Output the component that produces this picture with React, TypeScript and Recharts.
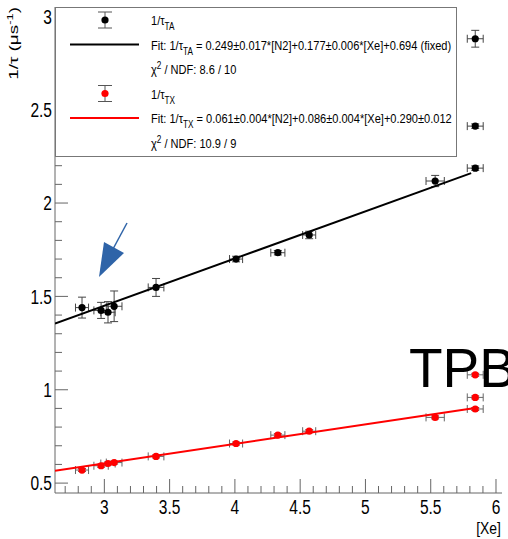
import { ComposedChart, Scatter, XAxis, YAxis, ErrorBar } from 'recharts'

const FONT = "'Liberation Sans', Arial, sans-serif"
const NARROW = 0.82

// [Xe] of each measurement (shared by both series)
const xe = [2.829, 2.975, 3.028, 3.075, 3.396, 4.009, 4.329, 4.569, 5.534, 5.841, 5.841, 5.841]
const xeErr = [0.05, 0.055, 0.055, 0.06, 0.06, 0.05, 0.054, 0.05, 0.07, 0.061, 0.061, 0.061]

// 1/tau_TA (black)
const rateTA = [1.44, 1.425, 1.415, 1.447, 1.548, 1.70, 1.734, 1.829, 2.118, 2.187, 2.412, 2.88]
const rateTAErr = [0.056, 0.043, 0.057, 0.082, 0.048, 0.015, 0.012, 0.02, 0.03, 0.012, 0.012, 0.045]

// 1/tau_TX (red)
const rateTX = [0.57, 0.593, 0.605, 0.61, 0.643, 0.712, 0.757, 0.778, 0.852, 0.897, 0.959, 1.08]
const rateTXErr = [0.008, 0.008, 0.008, 0.008, 0.008, 0.008, 0.008, 0.008, 0.008, 0.008, 0.008, 0.008]

// fit lines, end points
const fitXeTA = [2.622, 5.81]
const fitTA = [1.355, 2.16]
const fitXeTX = [2.622, 5.84]
const fitTX = [0.566, 0.902]

const xTicks = [2.7, 2.8, 2.9, 3, 3.1, 3.2, 3.3, 3.4, 3.5, 3.6, 3.7, 3.8, 3.9, 4, 4.1, 4.2, 4.3, 4.4, 4.5,
  4.6, 4.7, 4.8, 4.9, 5, 5.1, 5.2, 5.3, 5.4, 5.5, 5.6, 5.7, 5.8, 5.9, 6]
const yTicks = [0.5, 0.6, 0.7, 0.8, 0.9, 1, 1.1, 1.2, 1.3, 1.4, 1.5, 1.6, 1.7, 1.8, 1.9, 2, 2.1, 2.2, 2.3,
  2.4, 2.5, 2.6, 2.7, 2.8, 2.9, 3]

const X_DOMAIN = [2.622, 6.046]
const Y_DOMAIN = [0.447, 3.05]

const AXIS = '#666'

const toPoints = (xs: number[], ys: number[], exs?: number[], eys?: number[]) =>
  xs.map((x, i) => ({ x, y: ys[i], ex: exs ? exs[i] : 0, ey: eys ? eys[i] : 0 }))

const taData = toPoints(xe, rateTA, xeErr, rateTAErr)
const txData = toPoints(xe, rateTX, xeErr, rateTXErr)
const taFit = toPoints(fitXeTA, fitTA)
const txFit = toPoints(fitXeTX, fitTX)

const isMajor = (v: number) => Math.abs(v * 2 - Math.round(v * 2)) < 1e-6

// condensed helvetica look: squeeze Liberation Sans horizontally
function NText({ x, y, rotate = 0, size, anchor = 'start', dy, sx = NARROW, children }: any) {
  return (
    <text transform={`translate(${x},${y}) rotate(${rotate}) scale(${sx},1)`} textAnchor={anchor}
      dy={dy} fontSize={size} fontFamily={FONT} fill="#000">
      {children}
    </text>
  )
}

const XTick = (props: any) => {
  const { x, y, payload } = props
  const major = isMajor(payload.value)
  return (
    <g>
      <line x1={x} x2={x} y1={y} y2={y - (major ? 14 : 7)} stroke={AXIS} />
      {major && <NText x={x} y={y + 21} size={21} sx={0.74} anchor="middle">{payload.value}</NText>}
    </g>
  )
}

const YTick = (props: any) => {
  const { x, y, payload } = props
  const major = isMajor(payload.value)
  return (
    <g>
      <line x1={x} x2={x + (major ? 13 : 7)} y1={y} y2={y} stroke={AXIS} />
      {major && <NText x={x - 3} y={y} dy="0.35em" size={21} sx={0.74} anchor="end">{payload.value}</NText>}
    </g>
  )
}

const dot = (color: string) => (p: any) => <circle cx={p.cx} cy={p.cy} r={3.6} fill={color} />
const noDot = () => <g />

function LegendMarker({ y, color }: { y: number; color: string }) {
  return (
    <g>
      <line x1={105} x2={105} y1={y - 8} y2={y + 8} stroke="#555" />
      <line x1={98} x2={112} y1={y - 8} y2={y - 8} stroke="#555" />
      <line x1={98} x2={112} y1={y + 8} y2={y + 8} stroke="#555" />
      <circle cx={105} cy={y} r={3.6} fill={color} />
    </g>
  )
}

function Tau({ sub }: { sub: string }) {
  return (
    <>
      1/τ<tspan fontSize={10} dy={5}>{sub}</tspan><tspan dy={-5}> </tspan>
    </>
  )
}

function Chi({ rest }: { rest: string }) {
  return (
    <>
      χ<tspan fontSize={10} dy={-5}>2</tspan><tspan dy={5}>{rest}</tspan>
    </>
  )
}

function Overlay() {
  const fs = 13.5
  return (
    <svg width={508} height={539} style={{ position: 'absolute', left: 0, top: 0, pointerEvents: 'none' }}>
      <rect x={55.5} y={7.5} width={401} height={149} fill="#fff" stroke="#777" />
      <LegendMarker y={20} color="#000" />
      <NText x={151} y={25} size={fs}><Tau sub="TA" /></NText>
      <line x1={70} x2={139} y1={44.5} y2={44.5} stroke="#000" strokeWidth={2} />
      <NText x={151} y={49.5} size={fs}>Fit: <Tau sub="TA" />= 0.249±0.017*[N2]+0.177±0.006*[Xe]+0.694 (fixed)</NText>
      <NText x={151} y={74} size={fs}><Chi rest=" / NDF: 8.6 / 10" /></NText>
      <LegendMarker y={93.5} color="#f00" />
      <NText x={151} y={98.5} size={fs}><Tau sub="TX" /></NText>
      <line x1={70} x2={139} y1={118} y2={118} stroke="#f00" strokeWidth={2} />
      <NText x={151} y={123} size={fs}>Fit: <Tau sub="TX" />= 0.061±0.004*[N2]+0.086±0.004*[Xe]+0.290±0.012</NText>
      <NText x={151} y={147.5} size={fs}><Chi rest=" / NDF: 10.9 / 9" /></NText>

      <NText x={18} y={7} rotate={-90} size={13} sx={1.45} anchor="end">
        1/τ (μs<tspan fontSize={9} dy={-5}>-1</tspan><tspan dy={5}>)</tspan>
      </NText>
      <NText x={501} y={534} size={17} anchor="end">[Xe]</NText>

      <text x={409} y={387} fontFamily={FONT} fontSize={55} fill="#000">TPB</text>
      <line x1={127} y1={223} x2={113} y2={249} stroke="#2f64a8" strokeWidth={1.5} />
      <polygon points="99,277 104,242 124,253" fill="#2f64a8" />
    </svg>
  )
}

export default function App() {
  return (
    <div style={{ position: 'fixed', left: 0, top: 0, width: 508, height: 539, background: '#fff', overflow: 'hidden' }}>
      <ComposedChart width={508} height={539} margin={{ top: 7, right: 6, bottom: 0, left: 0 }}>
        <XAxis type="number" dataKey="x" domain={X_DOMAIN} ticks={xTicks} interval={0} height={46}
          allowDataOverflow tickSize={0} tickMargin={0} tickLine={false} axisLine={{ stroke: AXIS }} tick={<XTick />} />
        <XAxis xAxisId="top" orientation="top" type="number" dataKey="x" domain={X_DOMAIN} height={0}
          allowDataOverflow tick={false} tickLine={false} axisLine={{ stroke: AXIS }} />
        <YAxis type="number" dataKey="y" domain={Y_DOMAIN} ticks={yTicks} interval={0} width={55}
          allowDataOverflow tickSize={0} tickMargin={0} tickLine={false} axisLine={{ stroke: AXIS }} tick={<YTick />} />
        <YAxis yAxisId="right" orientation="right" type="number" dataKey="y" domain={Y_DOMAIN} width={0}
          allowDataOverflow tick={false} tickLine={false} axisLine={{ stroke: AXIS }} />

        <Scatter data={taFit} line={{ stroke: '#000', strokeWidth: 2 }} shape={noDot} isAnimationActive={false} />
        <Scatter data={txFit} line={{ stroke: '#f00', strokeWidth: 2 }} shape={noDot} isAnimationActive={false} />

        <Scatter data={taData} shape={dot('#000')} isAnimationActive={false}>
          <ErrorBar dataKey="ey" direction="y" width={4} stroke="#444" strokeWidth={1} isAnimationActive={false} />
          <ErrorBar dataKey="ex" direction="x" width={4} stroke="#444" strokeWidth={1} isAnimationActive={false} />
        </Scatter>
        <Scatter data={txData} shape={dot('#f00')} isAnimationActive={false}>
          <ErrorBar dataKey="ey" direction="y" width={4} stroke="#666" strokeWidth={1} isAnimationActive={false} />
          <ErrorBar dataKey="ex" direction="x" width={4} stroke="#666" strokeWidth={1} isAnimationActive={false} />
        </Scatter>
      </ComposedChart>
      <Overlay />
    </div>
  )
}
